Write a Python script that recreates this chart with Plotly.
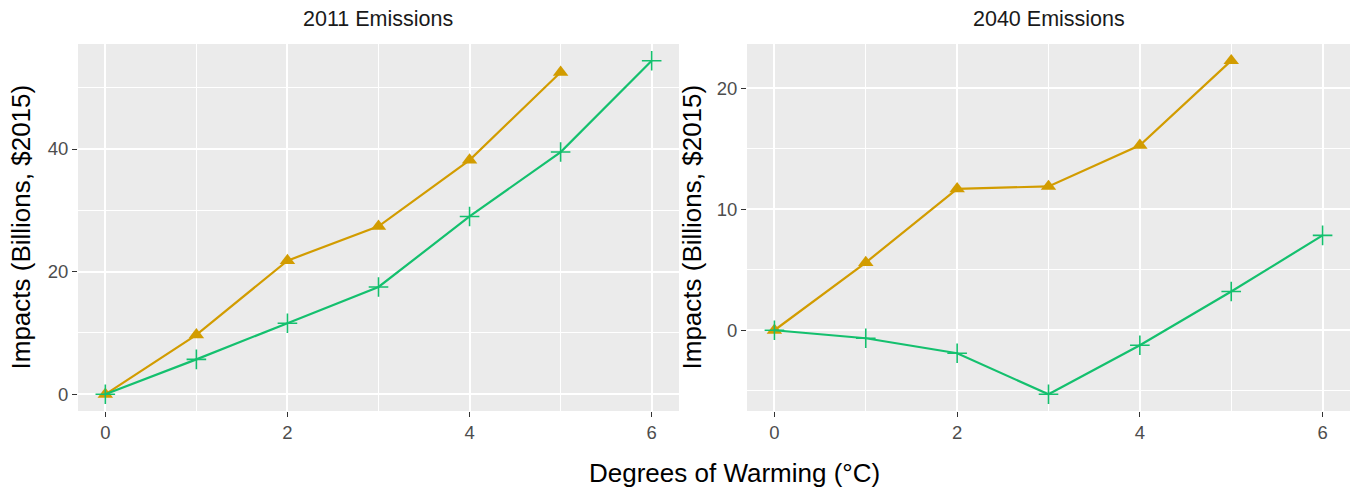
import plotly.graph_objects as go

# Degrees of warming (x) and impacts in billions of 2015 dollars
warming = [0, 1, 2, 3, 4, 5, 6]
warming_orange = [0, 1, 2, 3, 4, 5]

e2011_orange = [0.0, 9.7, 21.8, 27.4, 38.2, 52.5]
e2011_green = [0.0, 5.7, 11.6, 17.5, 29.0, 39.5, 54.4]

e2040_orange = [0.0, 5.6, 11.7, 11.9, 15.3, 22.3]
e2040_green = [0.0, -0.66, -1.9, -5.3, -1.24, 3.2, 7.85]

panel_titles = ["2011 Emissions", "2040 Emissions"]
x_title = "Degrees of Warming (°C)"
y_title = "Impacts (Billions, $2015)"

ORANGE = "#D29C00"
GREEN = "#14C06E"
W, H = 1353, 490
FONT = "Liberation Sans, Arial, sans-serif"

fig = go.Figure()


def add_panel(idx, orange, green):
    xa = "x" if idx == 1 else f"x{idx}"
    ya = "y" if idx == 1 else f"y{idx}"
    fig.add_trace(go.Scatter(
        x=warming_orange, y=orange, mode="lines+markers", xaxis=xa, yaxis=ya,
        line=dict(color=ORANGE, width=2.2),
        marker=dict(symbol="triangle-up", size=13.5, color=ORANGE),
        showlegend=False, cliponaxis=False))
    fig.add_trace(go.Scatter(
        x=warming, y=green, mode="lines+markers", xaxis=xa, yaxis=ya,
        line=dict(color=GREEN, width=2.2),
        marker=dict(symbol="cross-thin-open", size=14,
                    line=dict(color=GREEN, width=1.6)),
        showlegend=False, cliponaxis=False))


add_panel(1, e2011_orange, e2011_green)
add_panel(2, e2040_orange, e2040_green)


def data_range(vals):
    lo, hi = min(vals), max(vals)
    pad = (hi - lo) * 0.05
    return [lo - pad, hi + pad]


tickfont = dict(family=FONT, size=18.5, color="#4D4D4D")
common_x = dict(
    range=[-0.3, 6.3], tickmode="linear", tick0=0, dtick=2,
    showgrid=True, gridcolor="white", gridwidth=1.8, zeroline=False,
    ticks="outside", ticklen=5, tickwidth=1.4, tickcolor="#333333",
    tickfont=tickfont, showline=False,
    minor=dict(dtick=1, tick0=0, showgrid=True, gridcolor="white", gridwidth=0.9, ticks=""),
)
common_y = dict(
    showgrid=True, gridcolor="white", gridwidth=1.8, zeroline=False,
    ticks="outside", ticklen=5, tickwidth=1.4, tickcolor="#333333",
    tickfont=tickfont, showline=False,
)

y_dom = [1 - 411 / H, 1 - 44 / H]
x1_dom = [78 / W, 679 / W]
x2_dom = [747 / W, 1350 / W]

fig.update_layout(
    width=W, height=H,
    margin=dict(l=0, r=0, t=0, b=0),
    paper_bgcolor="white",
    font=dict(family=FONT, color="black"),
    xaxis=dict(domain=x1_dom, anchor="y", **common_x),
    yaxis=dict(domain=y_dom, anchor="x",
               range=data_range(e2011_orange + e2011_green),
               tickmode="linear", tick0=0, dtick=20,
               minor=dict(dtick=10, tick0=0, showgrid=True, gridcolor="white",
                          gridwidth=0.9, ticks=""),
               **common_y),
    xaxis2=dict(domain=x2_dom, anchor="y2", **common_x),
    yaxis2=dict(domain=y_dom, anchor="x2",
                range=data_range(e2040_orange + e2040_green),
                tickmode="linear", tick0=0, dtick=10,
                minor=dict(dtick=5, tick0=0, showgrid=True, gridcolor="white",
                           gridwidth=0.9, ticks=""),
                **common_y),
)

# Grey panel backgrounds
for dom in (x1_dom, x2_dom):
    fig.add_shape(type="rect", xref="paper", yref="paper",
                  x0=dom[0], x1=dom[1], y0=y_dom[0], y1=y_dom[1],
                  fillcolor="#EBEBEB", line=dict(width=0), layer="below")

# Panel titles
for dom, title in zip((x1_dom, x2_dom), panel_titles):
    fig.add_annotation(x=(dom[0] + dom[1]) / 2, y=1 - 19 / H, xref="paper", yref="paper",
                       text=title, showarrow=False, xanchor="center", yanchor="middle",
                       font=dict(size=21.5, color="#1A1A1A"))

# Shared x-axis title
fig.add_annotation(x=734 / W, y=1 - 473 / H, xref="paper", yref="paper",
                   text=x_title, showarrow=False, xanchor="center", yanchor="middle",
                   font=dict(size=26, color="black"))

# Y-axis titles for each panel
for xpix in (21, 692):
    fig.add_annotation(x=xpix / W, y=(y_dom[0] + y_dom[1]) / 2, xref="paper", yref="paper",
                       text=y_title, showarrow=False, textangle=-90,
                       xanchor="center", yanchor="middle",
                       font=dict(size=26, color="black"))

fig.write_html("out.html")
